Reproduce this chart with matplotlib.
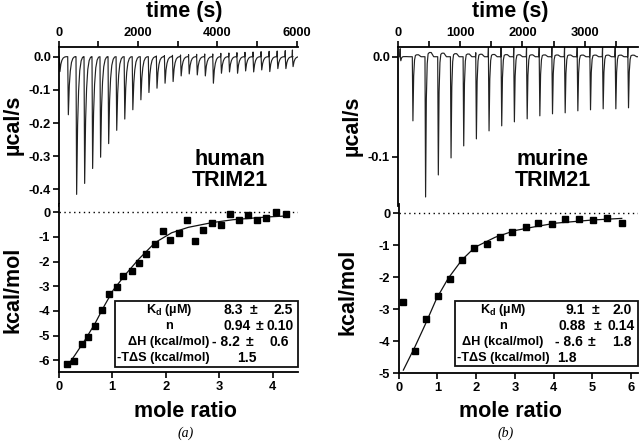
import matplotlib
matplotlib.use("Agg")
import matplotlib.pyplot as plt
from matplotlib.patches import Rectangle
import numpy as np

plt.rcParams['font.family'] = ['Liberation Sans', 'DejaVu Sans']
plt.rcParams['font.weight'] = 'bold'
plt.rcParams['mathtext.fontset'] = 'custom'
plt.rcParams['mathtext.rm'] = 'Liberation Sans:bold'
plt.rcParams['mathtext.bf'] = 'Liberation Sans:bold'

# ---------------- data ----------------
# human TRIM21 raw thermogram: injection times (s) and peak heights (ucal/s)
human_inj_t = [15, 227, 436, 638, 839, 1040, 1243, 1446, 1649, 1852, 2055, 2258,
               2461, 2664, 2867, 3070, 3273, 3476, 3679, 3882, 4085, 4288, 4491,
               4694, 4897, 5100, 5303, 5506, 5709, 5890]
human_peak = [-0.045, -0.175, -0.415, -0.382, -0.337, -0.303, -0.262, -0.222, -0.188,
              -0.160, -0.130, -0.108, -0.095, -0.080, -0.075, -0.058, -0.052, -0.055,
              -0.058, -0.080, -0.050, -0.046, -0.050, -0.043, -0.046, -0.040, -0.045,
              -0.036, -0.036, -0.030]
human_up = [0, 0, 0, 0, 0, 0, 0, 0, 0, 0, 0, 0, 0.002, 0.003, 0.004, 0.005, 0.006,
            0.007, 0.008, 0.008, 0.010, 0.011, 0.012, 0.013, 0.014, 0.015, 0.016,
            0.017, 0.018, 0.020]

# murine TRIM21 raw thermogram
murine_inj_t = [40, 234, 437, 641, 845, 1048, 1251, 1454, 1657, 1860, 2065, 2268,
                2471, 2674, 2877, 3080, 3283, 3486, 3689]
murine_peak = [-0.004, -0.064, -0.140, -0.118, -0.101, -0.089, -0.082, -0.074, -0.069,
               -0.065, -0.062, -0.059, -0.057, -0.056, -0.054, -0.053, -0.052, -0.052,
               -0.051]
murine_up = [0.008, 0, 0, 0, 0, 0, 0.004, 0.009, 0.010, 0.010, 0.010, 0.010, 0.010,
             0.010, 0.010, 0.010, 0.010, 0.010, 0.010]

# integrated heats (kcal/mol) vs mole ratio
human_ratio = [0.16, 0.29, 0.43, 0.54, 0.68, 0.81, 0.94, 1.08, 1.21, 1.36, 1.50, 1.64,
               1.79, 1.94, 2.08, 2.24, 2.40, 2.55, 2.70, 2.87, 3.03, 3.20, 3.36, 3.53,
               3.71, 3.88, 4.06, 4.25]
human_heat = [-6.16, -6.03, -5.34, -5.07, -4.61, -3.97, -3.31, -3.04, -2.60, -2.37,
              -2.06, -1.69, -1.30, -0.76, -1.14, -0.85, -0.32, -1.16, -0.70, -0.42,
              -0.51, -0.08, -0.30, -0.11, -0.32, -0.22, 0.00, -0.07]
human_fit_x = [0.20, 0.30, 0.49, 0.68, 0.86, 1.02, 1.24, 1.49, 1.80, 2.11, 2.42, 2.86,
               3.26, 3.89, 4.25]
human_fit_y = [-6.10, -5.80, -5.18, -4.50, -3.76, -3.15, -2.54, -1.91, -1.23, -0.83,
               -0.61, -0.42, -0.30, -0.19, -0.15]

murine_ratio = [0.10, 0.42, 0.71, 1.02, 1.32, 1.63, 1.94, 2.27, 2.61, 2.93, 3.28, 3.61,
                3.95, 4.29, 4.66, 5.02, 5.39, 5.76]
murine_heat = [-2.78, -4.30, -3.30, -2.60, -2.04, -1.46, -1.07, -0.95, -0.73, -0.57,
               -0.42, -0.31, -0.33, -0.19, -0.18, -0.20, -0.14, -0.30]
murine_fit_x = [0.12, 0.42, 0.68, 0.98, 1.28, 1.63, 1.97, 2.49, 3.00, 3.52, 4.04, 5.00,
                5.76]
murine_fit_y = [-4.90, -4.17, -3.49, -2.66, -2.03, -1.46, -1.06, -0.75, -0.54, -0.42,
                -0.31, -0.21, -0.16]

table_labels = ["K$_\\mathbf{d}$ (\u00b5M)", "n", "\u0394H (kcal/mol)", "-T\u0394S (kcal/mol)"]
human_vals = ["8.3", "0.94", "- 8.2", "1.5"]
human_errs = ["2.5", "0.10", "0.6", ""]
murine_vals = ["9.1", "0.88", "- 8.6", "1.8"]
murine_errs = ["2.0", "0.14", "1.8", ""]

# ---------------- layout helpers ----------------
W, H = 640, 444
fig = plt.figure(figsize=(6.4, 4.44), dpi=100)


def rect(x0, yt, x1, yb):
    return [x0 / W, 1 - yb / H, (x1 - x0) / W, (yb - yt) / H]


def ftext(x, y, s, **kw):
    kw.setdefault('ha', 'center')
    kw.setdefault('va', 'center')
    return fig.text(x / W, 1 - y / H, s, **kw)


TICK_FS = 9.3
LABEL_FS = 15.5
TAB_FS = 9.2
NUM_FS = 10.0


def style_top(ax):
    for s in ['bottom', 'right']:
        ax.spines[s].set_visible(False)
    for s in ['top', 'left']:
        ax.spines[s].set_linewidth(1.3)
    ax.xaxis.tick_top()
    ax.tick_params(axis='both', which='both', direction='out', width=1.2,
                   labelsize=TICK_FS, pad=1.5)
    ax.tick_params(axis='both', which='major', length=4)
    ax.tick_params(axis='x', which='minor', length=4)
    ax.patch.set_alpha(0)


def style_bottom(ax):
    for s in ['top', 'right']:
        ax.spines[s].set_visible(False)
    for s in ['bottom', 'left']:
        ax.spines[s].set_linewidth(1.3)
    ax.tick_params(axis='both', which='major', direction='out', width=1.2,
                   length=4, labelsize=TICK_FS, pad=2)


def build_trace(times, peaks, ups, shape_dt, shape_f, up_dt):
    tt, yy = [], []
    for t, p, u in zip(times, peaks, ups):
        if u:
            tt += [t - up_dt, t]
            yy += [0.0, u]
        for d, f in zip(shape_dt, shape_f):
            tt.append(t + d)
            yy.append(f * p)
    return tt, yy


def trace_plot(ax, times, peaks, ups, shape_dt, shape_f, up_dt):
    tt, yy = build_trace(times, peaks, ups, shape_dt, shape_f, up_dt)
    ax.plot(tt, yy, color='#222222', lw=0.85)


def table(xl, xv, xpm, xe, x_last, vals, errs, box):
    rows_y = [310, 326, 342, 358]
    bx0, byt, bx1, byb = box
    fig.add_artist(Rectangle((bx0 / W, 1 - byb / H), (bx1 - bx0) / W, (byb - byt) / H,
                             transform=fig.transFigure, fill=False, lw=1.3,
                             edgecolor='#111111'))
    for i, y in enumerate(rows_y):
        lab = table_labels[i]
        if i == 3:
            ftext(bx0 + 2, y, lab, ha='left', fontsize=TAB_FS)
            ftext(x_last, y, vals[i], ha='left', fontsize=NUM_FS)
        else:
            ftext(xl, y, lab, fontsize=TAB_FS)
            ftext(xv[i], y, vals[i], ha='right', fontsize=NUM_FS)
            ftext(xpm[i], y, "\u00b1", fontsize=NUM_FS)
            ftext(xe[i], y, errs[i], ha='right', fontsize=NUM_FS)


# ---------------- human (a) ----------------
ax1 = fig.add_axes(rect(58.7, 46.7, 298, 206))
trace_plot(ax1, human_inj_t, human_peak, human_up,
           [0, 16, 40, 65, 95, 130, 165, 195], [0, 1, 0.5, 0.25, 0.1, 0.03, 0.005, 0], 6)
ax1.set_xlim(0, 6030)
ax1.set_ylim(-0.45, 0.03)
ax1.set_xticks([0, 2000, 4000, 6000])
ax1.set_xticks([1000, 3000, 5000], minor=True)
ax1.set_yticks([0.0, -0.1, -0.2, -0.3, -0.4])
ax1.set_yticklabels(["0.0", "-0.1", "-0.2", "-0.3", "-0.4"])
style_top(ax1)

ax2 = fig.add_axes(rect(58.7, 204, 298, 372.3))
ax2.axhline(0, color='black', lw=1.0, ls=(0, (1, 2.5)))
ax2.plot(human_fit_x, human_fit_y, color='#111111', lw=0.9)
ax2.plot(human_ratio, human_heat, 's', color='black', ms=4.2)
ax2.set_xlim(0, 4.47)
ax2.set_ylim(-6.485, 0.336)
ax2.set_xticks([0, 1, 2, 3, 4])
ax2.set_yticks([0, -1, -2, -3, -4, -5, -6])
ax2.set_yticklabels(["0", "-1", "-2", "-3", "-4", "-5", "-6"])
style_bottom(ax2)

# ---------------- murine (b) ----------------
ax3 = fig.add_axes(rect(397.7, 46.7, 638, 206))
trace_plot(ax3, murine_inj_t, murine_peak, murine_up,
           [0, 10, 22, 36, 50, 70, 100, 140, 185],
           [0, 1, 0.3, 0.05, -0.02, -0.03, -0.03, 0.0, 0], 5)
ax3.set_xlim(0, 3851)
ax3.set_ylim(-0.149, 0.01)
ax3.set_xticks([0, 1000, 2000, 3000])
ax3.set_xticks([500, 1500, 2500, 3500], minor=True)
ax3.set_yticks([0.0, -0.1])
ax3.set_yticklabels(["0.0", "-0.1"])
style_top(ax3)

ax4 = fig.add_axes(rect(398.7, 204, 638, 373.3))
ax4.axhline(0, color='black', lw=1.0, ls=(0, (1, 2.5)))
ax4.plot(murine_fit_x, murine_fit_y, color='#111111', lw=0.9)
ax4.plot(murine_ratio, murine_heat, 's', color='black', ms=4.2)
ax4.set_xlim(0, 6.18)
ax4.set_ylim(-5.0, 0.29)
ax4.set_xticks([0, 1, 2, 3, 4, 5, 6])
ax4.set_yticks([0, -1, -2, -3, -4, -5])
ax4.set_yticklabels(["0", "-1", "-2", "-3", "-4", "-5"])
style_bottom(ax4)

# ---------------- labels ----------------
ftext(184, 12, "time (s)", fontsize=LABEL_FS)
ftext(510.5, 12, "time (s)", fontsize=LABEL_FS)
ftext(13, 125, "\u00b5cal/s", fontsize=LABEL_FS, rotation=90)
ftext(352, 126, "\u00b5cal/s", fontsize=LABEL_FS, rotation=90)
ftext(13, 290, "kcal/mol", fontsize=LABEL_FS, rotation=90)
ftext(348, 292, "kcal/mol", fontsize=LABEL_FS, rotation=90)
ftext(185, 411, "mole ratio", fontsize=LABEL_FS)
ftext(510, 411, "mole ratio", fontsize=LABEL_FS)
ftext(230, 170, "human\nTRIM21", fontsize=LABEL_FS, linespacing=1.05)
ftext(552.5, 170, "murine\nTRIM21", fontsize=LABEL_FS, linespacing=1.05)
ftext(186, 433, "(a)", fontsize=10, family=['Liberation Serif'], style='italic',
      weight='normal')
ftext(506, 433, "(b)", fontsize=10, family=['Liberation Serif'], style='italic',
      weight='normal')

# ---------------- fit tables ----------------
table(169, [243, 250.5, 240], [254, 259, 249], [292.7, 293.5, 289.3], 237,
      human_vals, human_errs, (115, 301, 298, 367))
table(503, [585, 586, 582.5], [596, 597, 591], [631.7, 635, 631.7], 557,
      murine_vals, murine_errs, (455, 301, 638, 366))

fig.savefig("out.png", dpi=100)
